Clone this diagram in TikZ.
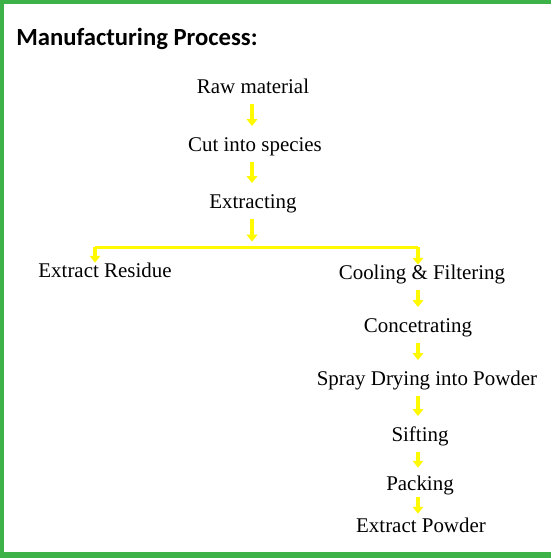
\documentclass[tikz,border=0pt]{standalone}
\usepackage{fontspec}
\setmainfont{Liberation Serif}
\newfontfamily\headfont{Carlito}
\usetikzlibrary{arrows.meta,positioning,calc}
\definecolor{framegreen}{RGB}{61,178,72}
\definecolor{flowyellow}{RGB}{255,250,0}
\tikzset{
    stage/.style={
        font=\fontsize{15.7}{18}\selectfont,
        inner sep=0pt,
        text height=10.5pt,
        text depth=3pt,
        anchor=base,
    },
    heading/.style={
        font=\headfont\bfseries\fontsize{18.5}{22}\selectfont,
        inner sep=0pt,
        anchor=base west,
    },
    flow/.style={
        draw=flowyellow,
        line width=3.2pt,
        -{Triangle[width=7.8pt,length=5.2pt]},
        shorten <=5pt,
        shorten >=8pt,
    },
    branch/.style={
        draw=flowyellow,
        line width=2.25pt,
    },
}

\begin{document}
\begin{tikzpicture}[x=0.75pt,y=-0.75pt]
    \useasboundingbox (0,0) rectangle (551,558);
    % frame
    \fill[framegreen] (0,0) rectangle (551,4);
    \fill[framegreen] (0,0) rectangle (4,558);
    \fill[framegreen] (0,552) rectangle (551,558);

    \node [heading] (title) at (16,45) {Manufacturing Process:};

    \node [stage] (raw) at (253,93) {Raw material};
    \node [stage] (cut) at (255,151) {Cut into species};
    \node [stage] (extract) at (253,208) {Extracting};
    \node [stage] (residue) at (105,277) {Extract Residue};
    \node [stage] (cool) at (422,279) {Cooling \& Filtering};
    \node [stage] (conc) at (418,332) {Concetrating};
    \node [stage] (spray) at (427,385) {Spray Drying into Powder};
    \node [stage] (sift) at (420,441) {Sifting};
    \node [stage] (pack) at (420,490) {Packing};
    \node [stage] (powder) at (421,532) {Extract Powder};

    \coordinate (split) at (252,247);
    \coordinate (lend) at (95,247);
    \coordinate (rend) at (418,247);

    \draw [flow] (raw.south -| split) -- (cut.north -| split);
    \draw [flow] (cut.south -| split) -- (extract.north -| split);
    \draw [flow, shorten >=4pt] (extract.south -| split) -- (split);
    \draw [branch] (lend) -- (rend);
    \draw [flow, shorten <=0pt, shorten >=0pt] (lend) -- (residue.north -| lend);
    \draw [flow, shorten <=0pt, shorten >=0pt] (rend) -- (cool.north -| rend);
    \draw [flow] (cool.south -| rend) -- (conc.north -| rend);
    \draw [flow] (conc.south -| rend) -- (spray.north -| rend);
    \draw [flow] (spray.south -| rend) -- (sift.north -| rend);
    \draw [flow, shorten >=6pt] (sift.south -| rend) -- (pack.north -| rend);
    \draw [flow, shorten <=2pt, shorten >=3pt] (pack.south -| rend) -- (powder.north -| rend);
\end{tikzpicture}
\end{document}
